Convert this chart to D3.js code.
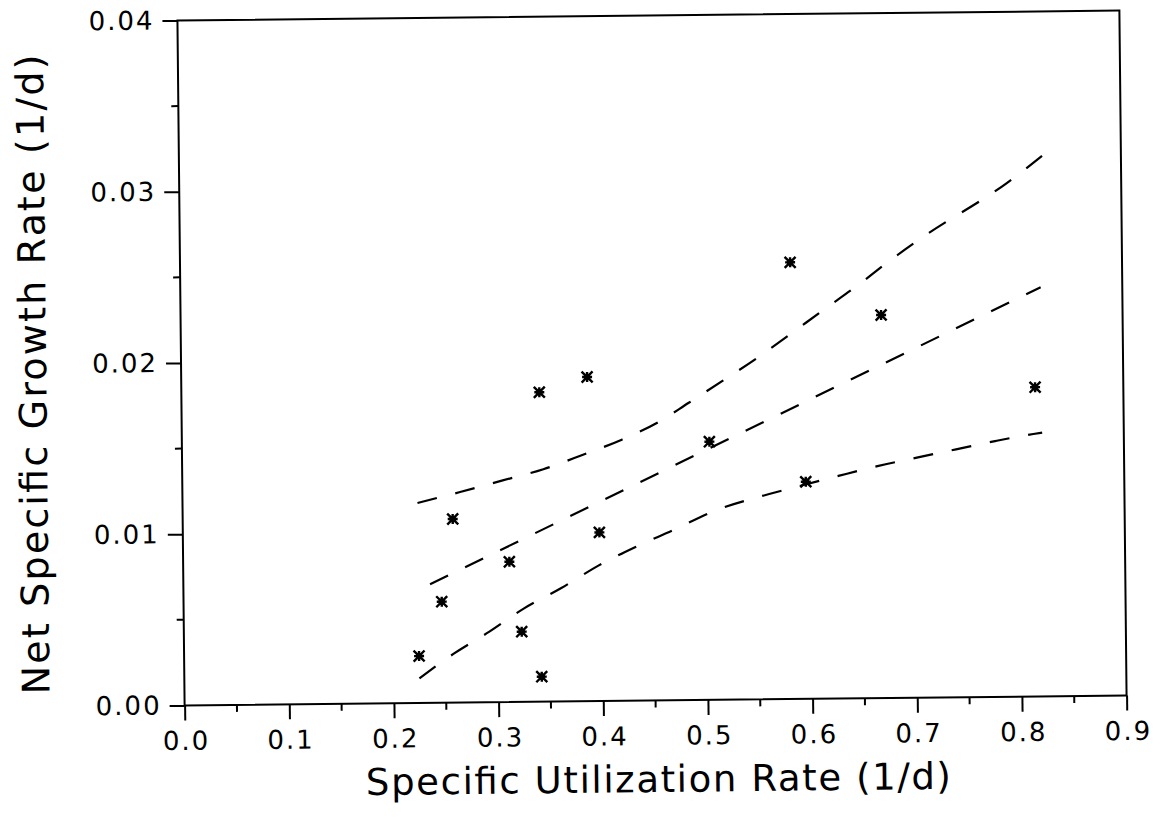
<!DOCTYPE html>
<html>
<head>
<meta charset="utf-8">
<script src="https://cdn.jsdelivr.net/npm/d3@7"></script>
<style>
  html, body { margin: 0; padding: 0; background: #fff; }
  svg { display: block; }
  text { font-family: "DejaVu Sans", sans-serif; fill: #000; }
</style>
</head>
<body>
<script>
// measured points, specific utilization rate vs net specific growth rate
const sampleX = [0.2245, 0.2467, 0.258, 0.3117, 0.3228, 0.342, 0.3415, 0.3878, 0.398, 0.504, 0.5829, 0.5957, 0.6693, 0.8157];
const sampleY = [0.00274, 0.0059, 0.01072, 0.00819, 0.0041, 0.01807, 0.00146, 0.01893, 0.00985, 0.01508, 0.0255, 0.01268, 0.02237, 0.01806];

// regression line
const fitX = [0.2357, 0.822];
const fitY = [0.00692, 0.0239];

// upper confidence band
const upperX = [0.2245, 0.2653, 0.3053, 0.3451, 0.3825, 0.4203, 0.4554, 0.4843, 0.5171, 0.5501, 0.5822, 0.6142, 0.6464, 0.6768, 0.7083, 0.7907, 0.838];
const upperY = [0.01168, 0.01229, 0.01293, 0.01357, 0.01438, 0.01525, 0.01625, 0.01735, 0.01862, 0.01992, 0.0213, 0.0227, 0.02408, 0.02548, 0.02683, 0.0300, 0.0322];

// lower confidence band
const lowerX = [0.2246, 0.2573, 0.2919, 0.3253, 0.3615, 0.3967, 0.4329, 0.4687, 0.5088, 0.5535, 0.5934, 0.6269, 0.6643, 0.702, 0.7396, 0.7769, 0.8136, 0.822];
const lowerY = [0.00144, 0.00284, 0.00412, 0.00546, 0.00664, 0.00791, 0.00899, 0.00994, 0.01105, 0.01187, 0.01249, 0.013, 0.01355, 0.01402, 0.01448, 0.01494, 0.01533, 0.0154];

const xTicks = [0, 0.1, 0.2, 0.3, 0.4, 0.5, 0.6, 0.7, 0.8, 0.9];
const xMinor = [0.05, 0.15, 0.25, 0.35, 0.45, 0.55, 0.65, 0.75, 0.85];
const yTicks = [0, 0.01, 0.02, 0.03, 0.04];
const yMinor = [0.005, 0.015, 0.025, 0.035];

const xTitle = "Specific Utilization Rate (1/d)";
const yTitle = "Net Specific Growth Rate (1/d)";

const width = 1165, height = 828;
const plotL = 181, plotR = 1123, plotT = 15.5, plotB = 700.5;

const x = d3.scaleLinear().domain([0, 0.9]).range([plotL, plotR]);
const y = d3.scaleLinear().domain([0, 0.04]).range([plotB, plotT]);

const svg = d3.select("body").append("svg")
  .attr("width", width)
  .attr("height", height);

// the scanned page sits slightly tilted
const g = svg.append("g")
  .attr("transform", "rotate(-0.6, 652, 358)");

// frame
g.append("rect")
  .attr("x", plotL).attr("y", plotT)
  .attr("width", plotR - plotL).attr("height", plotB - plotT)
  .attr("fill", "none").attr("stroke", "#000").attr("stroke-width", 2);

// x axis
const xAxis = g.append("g")
  .attr("transform", `translate(0,${plotB})`)
  .call(d3.axisBottom(x).tickValues(xTicks).tickFormat(d3.format(".1f"))
    .tickSize(15).tickSizeOuter(0).tickPadding(11));
xAxis.select(".domain").remove();
xAxis.selectAll("line").attr("stroke", "#000").attr("stroke-width", 2);
xAxis.selectAll("text")
  .attr("font-family", "DejaVu Sans").attr("font-size", 26)
  .style("letter-spacing", "2px").attr("dx", "1px");

g.append("g").selectAll("line")
  .data(xMinor).join("line")
  .attr("x1", d => x(d)).attr("x2", d => x(d))
  .attr("y1", plotB).attr("y2", plotB + 7)
  .attr("stroke", "#000").attr("stroke-width", 2);

// y axis
const yAxis = g.append("g")
  .attr("transform", `translate(${plotL},0)`)
  .call(d3.axisLeft(y).tickValues(yTicks).tickFormat(d3.format(".2f"))
    .tickSize(15).tickSizeOuter(0).tickPadding(8));
yAxis.select(".domain").remove();
yAxis.selectAll("line").attr("stroke", "#000").attr("stroke-width", 2);
yAxis.selectAll("text")
  .attr("font-family", "DejaVu Sans").attr("font-size", 26)
  .style("letter-spacing", "2px");

g.append("g").selectAll("line")
  .data(yMinor).join("line")
  .attr("x1", plotL - 7).attr("x2", plotL)
  .attr("y1", d => y(d)).attr("y2", d => y(d))
  .attr("stroke", "#000").attr("stroke-width", 2);

// axis titles
g.append("text")
  .attr("x", (plotL + plotR) / 2 + 2)
  .attr("y", 792)
  .attr("text-anchor", "middle")
  .attr("font-size", 37)
  .attr("textLength", 585)
  .attr("lengthAdjust", "spacing")
  .text(xTitle);

g.append("text")
  .attr("transform", "translate(46,368) rotate(-90)")
  .attr("text-anchor", "middle")
  .attr("font-size", 38)
  .attr("textLength", 640)
  .attr("lengthAdjust", "spacing")
  .text(yTitle);

// regression line and confidence bands
const line = d3.line().x(d => x(d[0])).y(d => y(d[1]));
const smooth = d3.line().x(d => x(d[0])).y(d => y(d[1])).curve(d3.curveMonotoneX);

const bands = [
  {path: line, pts: d3.zip(fitX, fitY)},
  {path: smooth, pts: d3.zip(upperX, upperY)},
  {path: smooth, pts: d3.zip(lowerX, lowerY)}
];

g.append("g").selectAll("path")
  .data(bands).join("path")
  .attr("d", d => d.path(d.pts))
  .attr("fill", "none")
  .attr("stroke", "#000")
  .attr("stroke-width", 2.2)
  .attr("stroke-dasharray", "20 19");

// asterisk markers
const star = "M-5.5,-5.5L5.5,5.5M-5.5,5.5L5.5,-5.5M-5,0L5,0M0,-5L0,5";
const pts = g.append("g").selectAll("g")
  .data(d3.zip(sampleX, sampleY)).join("g")
  .attr("transform", d => `translate(${x(d[0])},${y(d[1])})`);
pts.append("path")
  .attr("d", star)
  .attr("stroke", "#000").attr("stroke-width", 2.4).attr("fill", "none");
pts.append("circle").attr("r", 3.2).attr("fill", "#000");
</script>
</body>
</html>
